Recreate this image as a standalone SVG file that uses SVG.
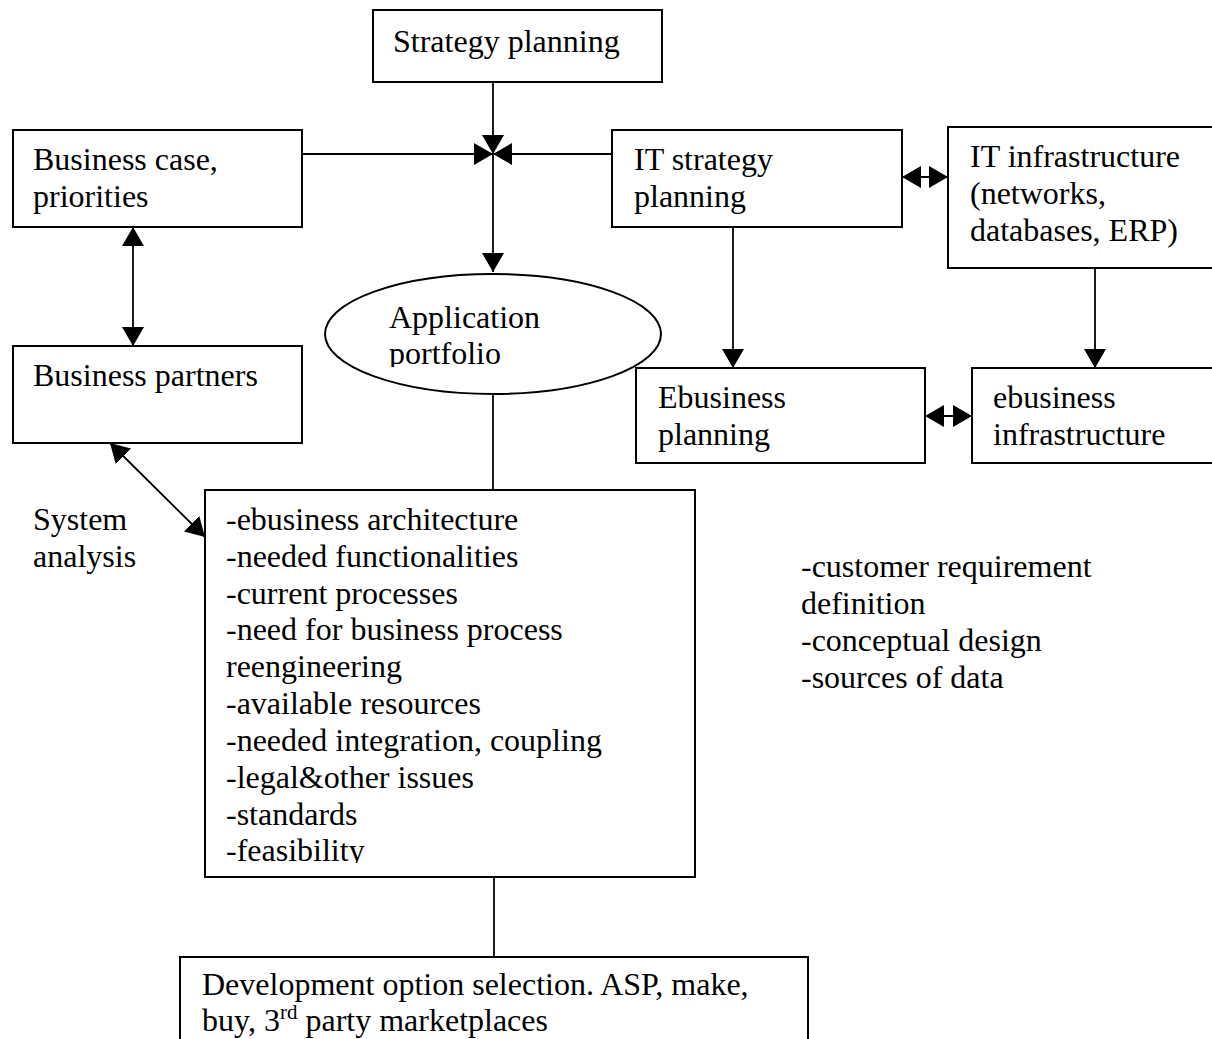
<svg xmlns="http://www.w3.org/2000/svg" width="1212" height="1039" viewBox="0 0 1212 1039">
  <style>
    .box { fill: #fff; stroke: #000; stroke-width: 2; }
    .ln { fill: none; stroke: #000; stroke-width: 1.8; }
    .t { font-family: "Liberation Serif", "Times New Roman", serif; font-size: 32px; fill: #000; }
  </style>
  <defs>
    <marker id="head" markerUnits="userSpaceOnUse" markerWidth="20" markerHeight="22" refX="19" refY="11" orient="auto-start-reverse" viewBox="0 0 20 22">
      <path d="M0,0 L19,11 L0,22 Z" fill="#000"/>
    </marker>
    <clipPath id="clipList"><rect x="205" y="490" width="490" height="373"/></clipPath>
    <clipPath id="clipOval"><rect x="325" y="273" width="336" height="94"/></clipPath>
  </defs>

  <!-- connectors -->
  <g id="connectors">
    <line class="ln" x1="493" y1="82" x2="493" y2="154" marker-end="url(#head)"/>
    <line class="ln" x1="302" y1="154" x2="493" y2="154" marker-end="url(#head)"/>
    <line class="ln" x1="612" y1="154" x2="493" y2="154" marker-end="url(#head)"/>
    <line class="ln" x1="493" y1="154" x2="493" y2="272" marker-end="url(#head)"/>
    <line class="ln" x1="133" y1="227" x2="133" y2="346" marker-start="url(#head)" marker-end="url(#head)"/>
    <line class="ln" x1="110" y1="443" x2="205" y2="537" marker-start="url(#head)" marker-end="url(#head)"/>
    <line class="ln" x1="902" y1="177" x2="948" y2="177" marker-start="url(#head)" marker-end="url(#head)"/>
    <line class="ln" x1="925" y1="416" x2="972" y2="416" marker-start="url(#head)" marker-end="url(#head)"/>
    <line class="ln" x1="733" y1="227" x2="733" y2="368" marker-end="url(#head)"/>
    <line class="ln" x1="1095" y1="268" x2="1095" y2="368" marker-end="url(#head)"/>
    <line class="ln" x1="493" y1="394" x2="493" y2="490"/>
    <line class="ln" x1="494" y1="877" x2="494" y2="957"/>
  </g>

  <g id="strategy-planning">
    <rect class="box" x="373" y="10" width="289" height="72"/>
    <text class="t" x="393" y="52">Strategy planning</text>
  </g>

  <g id="business-case">
    <rect class="box" x="13" y="130" width="289" height="97"/>
    <text class="t" x="33" y="170">Business case,</text>
    <text class="t" x="33" y="207">priorities</text>
  </g>

  <g id="it-strategy">
    <rect class="box" x="612" y="130" width="290" height="97"/>
    <text class="t" x="634" y="170">IT strategy</text>
    <text class="t" x="634" y="207">planning</text>
  </g>

  <g id="it-infrastructure">
    <rect class="box" x="948" y="127" width="270" height="141"/>
    <text class="t" x="970" y="167">IT infrastructure</text>
    <text class="t" x="970" y="204">(networks,</text>
    <text class="t" x="970" y="241">databases, ERP)</text>
  </g>

  <g id="business-partners">
    <rect class="box" x="13" y="346" width="289" height="97"/>
    <text class="t" x="33" y="386">Business partners</text>
  </g>

  <g id="application-portfolio">
    <ellipse class="box" cx="493" cy="334" rx="168" ry="60"/>
    <g clip-path="url(#clipOval)">
      <text class="t" x="389" y="328">Application</text>
      <text class="t" x="389" y="364">portfolio</text>
    </g>
  </g>

  <g id="ebusiness-planning">
    <rect class="box" x="636" y="368" width="289" height="95"/>
    <text class="t" x="658" y="408">Ebusiness</text>
    <text class="t" x="658" y="445">planning</text>
  </g>

  <g id="ebusiness-infrastructure">
    <rect class="box" x="972" y="368" width="246" height="95"/>
    <text class="t" x="993" y="408">ebusiness</text>
    <text class="t" x="993" y="445">infrastructure</text>
  </g>

  <g id="system-analysis">
    <text class="t" x="33" y="530">System</text>
    <text class="t" x="33" y="567">analysis</text>
  </g>

  <g id="analysis-list">
    <rect class="box" x="205" y="490" width="490" height="387"/>
    <g clip-path="url(#clipList)">
      <text class="t" x="226" y="530">-ebusiness architecture</text>
      <text class="t" x="226" y="567">-needed functionalities</text>
      <text class="t" x="226" y="604">-current processes</text>
      <text class="t" x="226" y="640">-need for business process</text>
      <text class="t" x="226" y="677">reengineering</text>
      <text class="t" x="226" y="714">-available resources</text>
      <text class="t" x="226" y="751">-needed integration, coupling</text>
      <text class="t" x="226" y="788">-legal&amp;other issues</text>
      <text class="t" x="226" y="825">-standards</text>
      <text class="t" x="226" y="861">-feasibility</text>
    </g>
  </g>

  <g id="requirements-notes">
    <text class="t" x="801" y="577">-customer requirement</text>
    <text class="t" x="801" y="614">definition</text>
    <text class="t" x="801" y="651">-conceptual design</text>
    <text class="t" x="801" y="688">-sources of data</text>
  </g>

  <g id="development-option">
    <rect class="box" x="180" y="957" width="628" height="100"/>
    <text class="t" x="202" y="995">Development option selection. ASP, make,</text>
    <text class="t" x="202" y="1031">buy, 3<tspan font-size="21" dy="-12">rd</tspan><tspan dy="12"> party marketplaces</tspan></text>
  </g>
</svg>
